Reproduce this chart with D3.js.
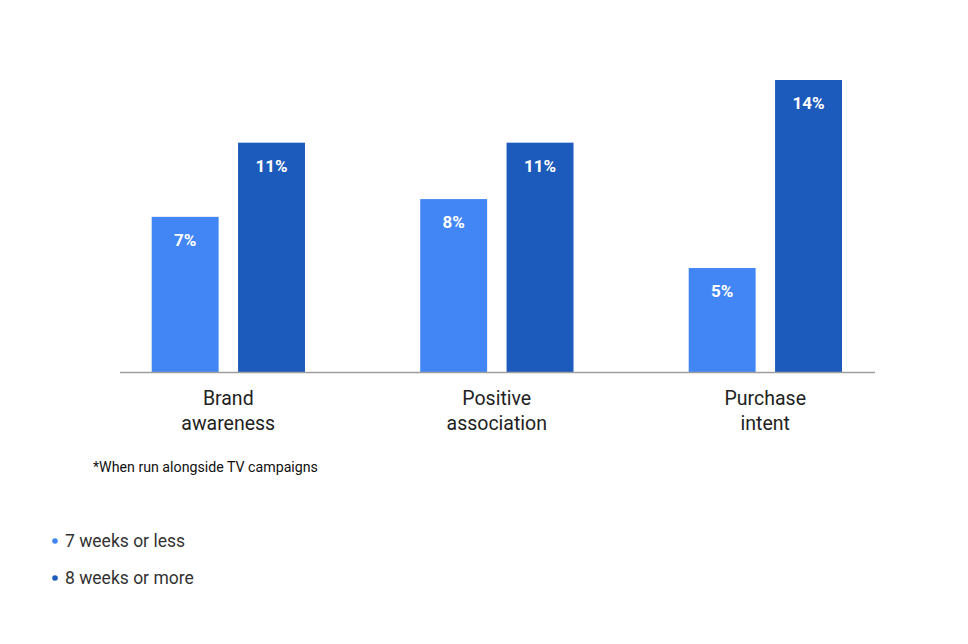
<!DOCTYPE html>
<html><head><meta charset="utf-8">
<script src="https://cdn.jsdelivr.net/npm/d3@7"></script>
<style>html,body{margin:0;padding:0;background:#fff;}svg{display:block;font-family:Roboto,"Noto Sans",Arial,sans-serif;}</style>
</head><body>
<svg id="chart" width="968" height="644"></svg>
<script>
const categories = [["Brand","awareness"],["Positive","association"],["Purchase","intent"]];
const seriesNames = ["7 weeks or less","8 weeks or more"];
const shortWeeks = [7.45, 8.3, 5.0];
const longWeeks = [11, 11, 14];
const valueLabels = [["7%","11%"],["8%","11%"],["5%","14%"]];
const footnote = "*When run alongside TV campaigns";
const colors = ["#4285f4","#1c5abb"];

const svg = d3.select("#chart");
const catKeys = categories.map(c => c.join(" "));
const x0 = d3.scaleBand().domain(catKeys).range([94, 899.5]).padding(0);
const x1 = d3.scaleBand().domain(seriesNames).range([57.7, 211]).paddingInner(0.225);
const y = d3.scaleLinear().domain([0, 14]).range([372.5, 80]);

const data = catKeys.map((k, i) => ({key: k, vals: [shortWeeks[i], longWeeks[i]], labels: valueLabels[i]}));

const g = svg.selectAll("g.grp").data(data).enter().append("g")
  .attr("transform", d => `translate(${x0(d.key)},0)`);

g.selectAll("rect").data(d => d.vals.map((v, j) => ({v, j, s: seriesNames[j]})))
  .enter().append("rect")
  .attr("x", d => x1(d.s)).attr("width", x1.bandwidth())
  .attr("y", d => y(d.v)).attr("height", d => y(0) - y(d.v))
  .attr("fill", d => colors[d.j]);

g.selectAll("text.val").data(d => d.vals.map((v, j) => ({v, j, s: seriesNames[j], t: d.labels[j]})))
  .enter().append("text").attr("class","val")
  .attr("x", d => x1(d.s) + x1.bandwidth()/2)
  .attr("y", d => y(d.v) + 29)
  .attr("text-anchor","middle").attr("fill","#fff")
  .attr("font-size", 17).attr("font-weight","bold")
  .text(d => d.t);

// baseline
svg.append("line").attr("x1",120).attr("x2",875).attr("y1",y(0)).attr("y2",y(0))
  .attr("stroke","#9e9e9e").attr("stroke-width",1.5);

// category labels
const cl = svg.selectAll("text.cat").data(categories).enter().append("text").attr("class","cat")
  .attr("text-anchor","middle").attr("font-size",19.5).attr("fill","#222");
cl.each(function(d, i) {
  const t = d3.select(this);
  const cx = x0(catKeys[i]) + x0.bandwidth()/2;
  d.forEach((line, k) => t.append("tspan").attr("x", cx).attr("y", 405 + k*25).text(line));
});

// footnote
svg.append("text").attr("x",93).attr("y",472).attr("font-size",14.2).attr("fill","#111").text(footnote);

// legend
const lg = svg.selectAll("g.leg").data(seriesNames).enter().append("g")
  .attr("transform",(d,i)=>`translate(55,${541 + i*37})`);
lg.append("circle").attr("r",2.8).attr("fill",(d,i)=>colors[i]);
lg.append("text").attr("x",10).attr("y",6).attr("font-size",17.5).attr("fill","#333").text(d=>d);
</script>
</body></html>
